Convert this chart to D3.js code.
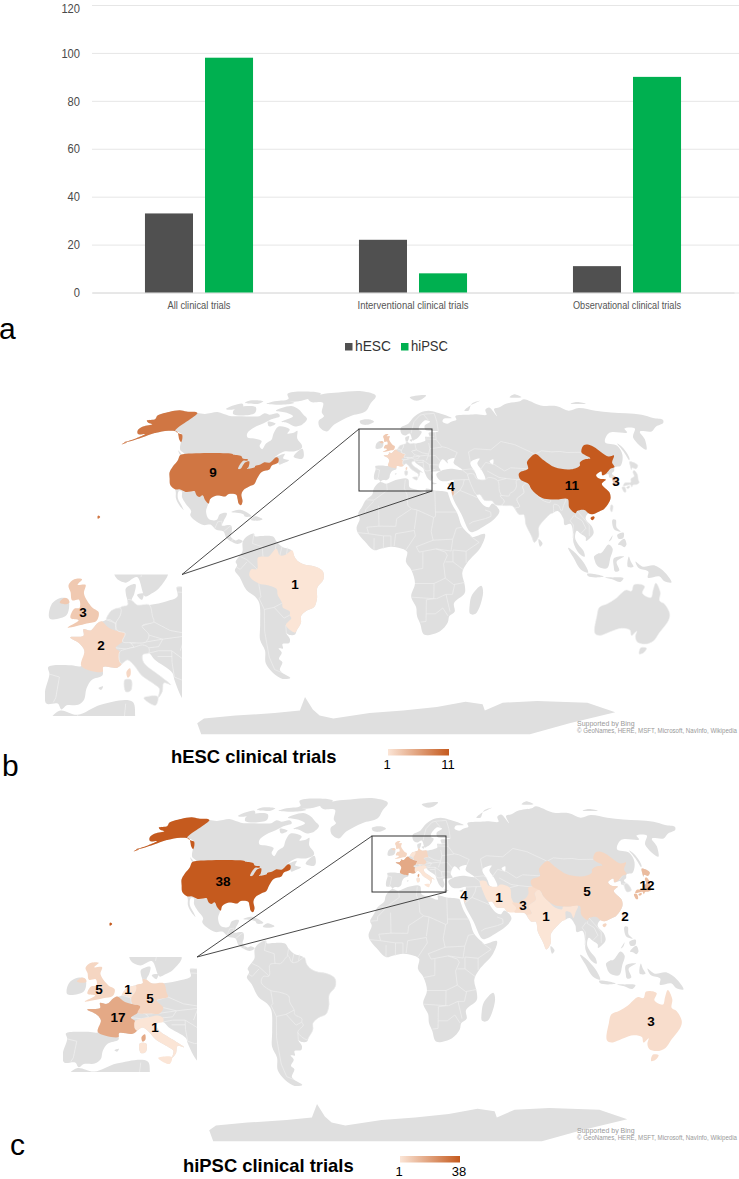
<!DOCTYPE html>
<html><head><meta charset="utf-8">
<script src="https://cdn.jsdelivr.net/npm/d3@7"></script>
<style>html,body{margin:0;padding:0;background:#fff}svg{display:block}</style>
</head><body><svg id="c" width="739" height="1179"></svg>
<script>
// ---------- bar chart data ----------
const categories = ["All clinical trials","Interventional clinical trials","Observational clinical trials"];
const seriesNames = ["hESC","hiPSC"];
const hescValues = [33,22,11];
const hipscValues = [98,8,90];
const yTicks = [0,20,40,60,80,100,120];

// ---------- map values ----------
const hescTrials = {USA:9, Brazil:1, France:2, UK:3, China:11, Korea:3, Israel:4};
const hipscTrials = {USA:38, France:17, UK:5, Germany:5, Netherlands:1, Italy:1, Iran:1, Pakistan:3, India:1, China:5, Japan:12, Taiwan:2, Australia:3, Israel:4};

// ---------- geography, [lon,lat] ----------
const landRings = [
 [[-168,65.6],[-164,66.5],[-166,68.3],[-162,70.3],[-156.5,71.3],[-150,70.5],[-141,69.7],[-135,69.2],[-128,70.2],[-124,69.6],[-115,68],[-108,68],[-101,67.8],[-96,68],[-94,69.5],[-90,68.8],[-85,69.5],[-82,68],[-86,66.3],[-89,64.2],[-93,62],[-94.5,59],[-92.5,57],[-88,56.5],[-82.5,55.2],[-82,52.8],[-79.5,51.3],[-79,54],[-77,56],[-78,58.7],[-78,62.4],[-73.5,62.3],[-69.5,61],[-69.5,59],[-65.5,59.5],[-64,60.3],[-61.5,56.5],[-57,53.5],[-56,52],[-60,50.2],[-66,50.2],[-70,47.5],[-65,49],[-65,47],[-61,46],[-64,44.5],[-66,44],[-67,45],[-70,43.5],[-70.5,41.7],[-74,40.6],[-75.5,37.5],[-76,35],[-78,34],[-81,32],[-81.3,30],[-80,27],[-80.4,25.2],[-81.8,26],[-82.8,28],[-84,30],[-88,30.3],[-89.5,29.2],[-91,29.3],[-94,29.6],[-97,28],[-97.5,25],[-97.8,22.3],[-96,19],[-94,18.2],[-91.5,18.6],[-90.5,21],[-87,21.5],[-88,18],[-88.6,15.8],[-84,15.8],[-83.3,13],[-83.7,10.8],[-81,8.9],[-79.5,9.5],[-77.5,8.6],[-78.2,7.8],[-80,7.3],[-83,8.3],[-85.7,10],[-87.5,13],[-91.5,14],[-94.5,16.2],[-98,16],[-103,18.3],[-105.5,20.5],[-105.5,22.5],[-109.2,26],[-112,29],[-113,31.5],[-114.7,31.7],[-114,28.5],[-110.5,24.5],[-109.5,23],[-112,25],[-115,28.5],[-116,31],[-117.1,32.5],[-120.5,34.5],[-122.5,37.5],[-124.3,40.4],[-124.5,43],[-124,46.2],[-124.7,48.4],[-122.8,49],[-127,51],[-130.3,54.5],[-134,58.3],[-139,59.8],[-145,60.3],[-149,60],[-151.5,59.3],[-153,59],[-157,57],[-161,55.3],[-164.5,54.6],[-160,56.5],[-157.5,58.7],[-162,58.7],[-165,60.5],[-165,62.5],[-161,63.7],[-165,64.5]],
 [[-73,78.2],[-68,76],[-58,75.5],[-54,70],[-51,68],[-53,65.5],[-50,62],[-44,60],[-41,63.5],[-32,68],[-22,70.5],[-20,75],[-18,80],[-30,83.5],[-50,82.5],[-62,81.5]],
 [[-80,73.7],[-72,71.5],[-67,69],[-62,66.5],[-64,63],[-68,62.7],[-74,64.5],[-78,65],[-73,68],[-80,70],[-88,71]],
 [[-117,73],[-105,73],[-101,69.5],[-115,69],[-118,71]],
 [[-90,76.5],[-78,76.5],[-65,81.5],[-72,83],[-92,81.5],[-88,78]],
 [[-125,72],[-118,75],[-115,73.5],[-120,71.5]],
 [[-100,75],[-85,74.5],[-80,75.5],[-92,77]],
 [[-117,75.5],[-106,75],[-105,76.5],[-116,77]],
 [[-87,65],[-81,64],[-84,62.6]],
 [[-59,47.7],[-55.5,51.5],[-53,48],[-53.5,46.7]],
 [[-128,50.8],[-123.5,48.4],[-125,48.7]],
 [[-84.8,22],[-80,23],[-74.2,20.2],[-77.5,19.9],[-78.5,21]],
 [[-74.3,18.5],[-72.5,20],[-68.4,18.7],[-71,18]],
 [[-77.3,8.5],[-75.5,10.7],[-72,12],[-71.5,10.8],[-68,11],[-62,10.7],[-60,8.4],[-57,6],[-52,4.5],[-50,1],[-48,-1],[-44,-2.5],[-40,-3],[-35.3,-5.2],[-35,-9],[-38.5,-13],[-39,-18],[-41,-22],[-45,-23.5],[-48.5,-26],[-49,-29],[-52,-32.5],[-53.5,-34.5],[-56.5,-34.8],[-58.3,-34],[-57,-36.5],[-58,-38.5],[-62,-39],[-62.5,-41],[-65,-41],[-64,-43],[-67,-46],[-65.7,-47.5],[-69,-51],[-68.5,-52.5],[-65,-55],[-70,-55.5],[-74,-52.5],[-75.5,-48],[-73,-42],[-73.7,-37],[-71.5,-30],[-70.2,-20],[-72,-17],[-76,-14],[-79,-8],[-81.2,-5],[-80,-2.5],[-80.7,-1],[-78.5,2],[-77.3,4],[-77.5,7]],
 [[-6,35.8],[-2,35.1],[3,36.8],[10,37.3],[11,33.5],[15,32.3],[20,31],[20,32.8],[25,32],[32,31.2],[32.5,29.9],[34,26],[37,21],[39,15.5],[43.2,11.5],[44.5,10.5],[51.2,11.9],[49,6],[41.5,-1.5],[39,-6],[40.5,-12],[40.5,-15.5],[35,-20],[35.5,-24],[32.7,-26],[32,-29],[28,-33],[20,-34.8],[18.3,-33.8],[17,-30],[15,-26],[14.5,-22],[11.8,-17],[13.8,-11],[12,-5],[9,-1],[9.7,3.5],[8.5,4.5],[5,5.5],[1,6],[-4,5.2],[-8,4.4],[-13,8.5],[-16.8,12.5],[-17.5,14.7],[-16,19],[-17,21],[-15,24.5],[-13,27.7],[-9.8,30],[-9,33]],
 [[-5.6,36],[-6.5,37],[-9,37],[-9.5,38.8],[-8.8,42],[-9.2,43.2],[-4,43.5],[-1.7,43.4],[-1.2,46],[-2.5,47.3],[-4.7,48.3],[-1.6,48.6],[-1.7,49.7],[0,49.5],[1.6,50.8],[3.6,51.4],[4.8,53],[7,53.6],[8.7,54],[8.2,56],[8.2,57],[10.6,57.7],[10.3,56],[9.7,54.8],[11,54],[14,54],[18.5,54.7],[21,55.5],[21,57.2],[24,57.2],[23.5,59.2],[28,59.6],[30,60],[25,60.2],[21.5,60.8],[21.3,63],[25.3,65],[22,65.8],[17.5,62.5],[17.2,60.7],[19,59.8],[16.5,57],[14.5,56],[13,55.5],[11,59],[8,58],[5.5,59],[5,62],[10,64],[14,67.5],[19,70],[25,71],[31,70],[41,67],[35,66.5],[34,65],[37,64],[40,65],[44,66],[44,68],[54,68.7],[60,69],[67,68.7],[68,71.5],[72,72.8],[74,68],[75,72],[80,73],[87,75],[100,76.5],[105,77.7],[113,74],[125,73.5],[130,71],[140,72.5],[150,71],[160,70],[170,69.5],[180,68.7],[-175,67],[-170,66],[-173,64.3],[179,62.5],[172,60],[164,59.9],[162,56],[157,51],[155.7,57],[163,61.5],[156,61.5],[155,59.5],[143,59.3],[135,54.7],[141,53],[140,48.5],[135,43.5],[131,42.8],[129.5,41],[127.5,39.8],[129.4,37],[129.3,35.3],[126.5,34.5],[126.5,37.5],[125,38],[125.3,39.5],[121.5,39],[122,40.7],[118,39],[119,37.5],[122.5,37],[119.3,35],[122,31],[121.5,28],[117,23.5],[114,22.3],[110,21],[108,21.5],[106,19],[109,15],[109.3,12],[105,8.7],[105,10.2],[102.5,12],[100.5,13.4],[99.3,10],[101,6.8],[103.5,4],[104,1.4],[101,3],[98.3,8],[98.5,12],[97.5,16.5],[94.3,16],[94,19],[91.5,22.5],[89,21.8],[87,21],[85,19.5],[80.3,15],[80,11],[77.5,8],[76,11],[73.5,16],[72.8,20.8],[70.5,20.8],[69,22.3],[67,24.8],[62,25.2],[57.5,25.5],[56.5,27],[52,27.5],[50,30],[48,30],[50,26.5],[51.5,25],[54,24.2],[56.3,26],[59.8,22.5],[57,19],[52,16],[45,12.8],[43.2,13],[39,21],[35,28],[34.3,31.2],[35.8,35.5],[36,36.8],[32,36.2],[28,36.7],[26.3,39.5],[29,41],[35,42],[41.5,41.5],[37,44.7],[38,47],[33.5,46],[33.7,44.5],[30.7,46.5],[28,43],[29,41.2],[26,40.8],[23.5,40.5],[24,38],[23,36.5],[21.3,37.5],[19.4,41],[19,42.2],[15,44.5],[13.7,45.6],[12.3,45.3],[12.5,44],[16,41.8],[18.5,40.2],[17,40.5],[16.6,39],[15.7,38],[16,39.5],[15,40.2],[12,41.8],[10.3,43.5],[8.8,44.4],[6.5,43.1],[3.3,43.2],[3.2,41.8],[0.8,41],[-0.3,39.5],[-0.7,37.7],[-2,36.8],[-4.5,36.7]],
 [[-10,54],[-8,55.2],[-6,55],[-6,52.2],[-10,51.6]],
 [[-24,65.5],[-18,66.3],[-14,65],[-18.5,63.4],[-22.7,63.9]],
 [[11,79],[25,80.3],[20,77.5],[15,77]],
 [[52,71],[57,73.5],[68,76.8],[60,75],[55,71]],
 [[95,79],[105,79],[100,81]],
 [[138,75],[150,75],[145,76]],
 [[142,54],[143.5,52],[143,47],[142,46],[142,50]],
 [[140,41.6],[140.5,43.3],[141.8,45.4],[145.2,43.7],[143,42],[141,42.5]],
 [[109,1.5],[111,2.8],[113,3.2],[117,7],[119,5],[117.7,1],[116,-4],[111,-3],[109.2,0]],
 [[95.3,5.5],[98,4],[104,-2],[106,-6],[102,-4.5],[98,1]],
 [[105.5,-6.5],[110,-6.7],[114.5,-7.8],[110,-8.2],[106,-7.5]],
 [[115,-8.2],[119,-8.2],[125,-8.5],[123.5,-10.3],[119,-9]],
 [[119.5,0.7],[125,1.5],[121,-0.9],[122.5,-5],[120.3,-5.5],[119.5,-3]],
 [[127.5,1.5],[128.5,-0.8],[130,-3.2],[127,-3.3]],
 [[131,-0.8],[135,-3.2],[141,-2.6],[147,-6],[150.8,-10.5],[147,-10],[144,-7.7],[138,-8.3],[138,-5.5],[133,-4]],
 [[120.5,18.5],[122.2,18.4],[122,15],[124,13],[120.8,13.8],[120,16]],
 [[122,7],[125.5,9.7],[126.5,7],[125.3,5.8],[124,6.5]],
 [[122,11.5],[125.5,12.5],[125,10],[122.5,9.7]],
 [[117.2,8.4],[119.5,11.3],[118.5,9.2]],
 [[79.8,9.5],[81.8,7.5],[80.5,6],[79.8,7.5]],
 [[49.3,-12],[50.4,-15.5],[47,-25],[44,-25],[43.5,-21],[44.5,-16.3]],
 [[8.2,41],[9.7,41],[9.6,39.2],[8.5,39]],
 [[23.5,35.6],[26.3,35.2],[24,34.9]],
 [[32.3,35],[34.5,35.6],[33.5,34.6]],
 [[11,55.8],[12.6,56],[12.2,54.9]],
 [[2.4,39.6],[3.4,39.9],[3,39.3]]
];
const polarRing = [[-164,-79.7],[-151,-76.8],[-123,-74.9],[-92,-73.5],[-72,-72],[-62,-64.7],[-62,-71.5],[-60,-74.9],[-51,-76.8],[-20,-73.5],[6,-72],[31,-70],[51,-67.2],[64,-68.5],[68,-72],[78,-67.7],[102,-66.8],[139,-67.7],[169,-73],[147,-79.7],[114,-89.9],[40,-89.9],[-50,-89.9],[-162,-89.9]];
const waterRings = [
 [[47,45],[53,46.8],[51,44.5],[53,41],[54,37],[50,37.3],[49,40]],
 [[58.5,45.5],[61,46.5],[60,44]]
];
const countryRings = {
 USA:[
  [[-122.8,49],[-95,49],[-94.6,48.7],[-89.5,48],[-88,46.9],[-84.8,46.5],[-84.7,45.8],[-87,45.8],[-87.8,42],[-86.5,42],[-85.5,45],[-83.5,45.5],[-82.5,43],[-83,42],[-79,42.7],[-79,43.3],[-76.5,44],[-75,45],[-71.5,45],[-69.2,47.4],[-67.8,47],[-67,45],[-70,43.5],[-70.5,41.7],[-74,40.6],[-75.5,37.5],[-76,35],[-78,34],[-81,32],[-81.3,30],[-80,27],[-80.4,25.2],[-81.8,26],[-82.8,28],[-84,30],[-88,30.3],[-89.5,29.2],[-91,29.3],[-94,29.6],[-97,28],[-97.2,25.9],[-99.5,27.5],[-101.5,29.8],[-103,29],[-104.5,29.6],[-106.5,31.7],[-108.2,31.5],[-111,31.3],[-114.7,32.5],[-117.1,32.5],[-120.5,34.5],[-122.5,37.5],[-124.3,40.4],[-124.5,43],[-124,46.2],[-124.7,48.4]],
  [[-168,65.6],[-164,66.5],[-166,68.3],[-162,70.3],[-156.5,71.3],[-150,70.5],[-141,69.7],[-141,60.3],[-137,59],[-134,58.3],[-130.3,54.7],[-133,56],[-136,58],[-139,59.8],[-145,60.3],[-149,60],[-151.5,59.3],[-153,59],[-157,57],[-161,55.3],[-164.5,54.6],[-160,56.5],[-157.5,58.7],[-162,58.7],[-165,60.5],[-165,62.5],[-161,63.7],[-165,64.5]],
  [[-163.5,54.8],[-164.5,53.6],[-162.5,54.5]],
  [[-152.5,20.4],[-151.3,19.7],[-152.2,18.9],[-152.7,19.7]]
 ],
 Brazil:[[[-51.5,4.3],[-50,1],[-48,-1],[-44,-2.5],[-40,-3],[-35.3,-5.2],[-35,-9],[-38.5,-13],[-39,-18],[-41,-22],[-45,-23.5],[-48.5,-26],[-49,-29],[-52,-32.5],[-53.4,-33.7],[-57.6,-30.2],[-54,-27],[-54.6,-25.6],[-54.3,-24],[-58,-22],[-58,-20],[-60,-16.3],[-60.3,-13.5],[-65,-11.8],[-69.5,-11],[-74,-7.5],[-73,-4.5],[-70,-4.3],[-69.5,1],[-67,1.5],[-64,1.5],[-60,5],[-58,2],[-55,2.3]]],
 UK:[
  [[-5,58.6],[-3,58.6],[-4,57.6],[-2,57.6],[-2.2,56],[0,53.6],[1.7,52.7],[1.3,51.2],[-1,50.7],[-5.5,50],[-3,51.3],[-5,51.7],[-4.3,53.3],[-3,53.5],[-3.3,54.9],[-5,54.8],[-5.6,56.3],[-6.3,57.5]],
  [[-8,54.4],[-7,55.2],[-6,55],[-5.6,54.4],[-6.4,54.1]]
 ],
 France:[
  [[1.6,50.8],[2.5,51.1],[4.2,50],[5.8,49.5],[8.2,49],[7.6,47.6],[6,46.5],[7,45.8],[7,44.2],[7.5,43.8],[6.5,43.1],[3.3,43.2],[3.2,42.4],[-1.7,43.4],[-1.2,46],[-2.5,47.3],[-4.7,48.3],[-1.6,48.6],[-1.7,49.7],[0,49.5]],
  [[8.6,42.4],[9.4,43],[9.5,41.8],[8.9,41.4]]
 ],
 Germany:[[[7,53.6],[8.7,54],[8.7,54.9],[9.7,54.8],[11,54],[14,54],[14.7,52],[15,51],[12.2,50.3],[13.8,48.7],[13,47.5],[10,47.4],[7.6,47.6],[8.2,49],[6.3,49.5],[6,51],[7,52.3]]],
 Netherlands:[[[3.6,51.4],[4.8,53],[7,53.4],[7,52.3],[6,51],[5.8,50.8],[4.5,51.4]]],
 Italy:[
  [[7,45.8],[8.5,46.3],[10.3,46.6],[12.3,47],[13.7,46.5],[13.7,45.6],[12.3,45.3],[12.5,44],[16,41.8],[18.5,40.2],[17,40.5],[16.6,39],[15.7,38],[16,39.5],[15,40.2],[12,41.8],[10.3,43.5],[8.8,44.4],[7.5,43.8],[7,44.2]],
  [[12.5,38],[15.6,38.2],[15.1,36.7],[12.8,37.6]],
  [[8.2,41],[9.7,41],[9.6,39.2],[8.5,39]]
 ],
 Iran:[[[44.5,39.5],[48,39.5],[49,37.5],[54,37],[56,38],[61,36.5],[61,31.5],[63,27],[61.6,25.2],[57.5,25.5],[56.5,27],[52,27.5],[50,30],[48,30],[46,33.5],[44.8,37]]],
 Pakistan:[[[61.6,25.2],[67,24.8],[68.5,23.8],[71,24.5],[70,28],[74.5,31],[74.5,34],[77.5,35.5],[74,37],[71.5,36.5],[71,34],[69.3,31.9],[66.5,30.5],[66,29.5],[61,29.5],[63,27]]],
 India:[[[74.5,34],[77.5,35.5],[79,32.5],[81,30.3],[84,27.5],[88,26.5],[88.8,27.8],[92,27.8],[97,28.2],[95,25],[93.5,22.5],[92.3,25],[89.8,25.5],[89,21.8],[87,21],[85,19.5],[80.3,15],[80,11],[77.5,8],[76,11],[73.5,16],[72.8,20.8],[70.5,20.8],[69,22.3],[68.5,23.8],[71,24.5],[70,28],[74.5,31]]],
 China:[
  [[73.7,39.5],[75,40.5],[80,42],[80.5,45],[83,47],[87.5,49],[91,46],[96,42.7],[105,41.8],[111,43.5],[111.9,45],[116,46.5],[119.5,47],[116,49.8],[120.5,53.3],[125,53],[131,47.8],[134.7,48.3],[131,45],[131,42.9],[128,42],[124.5,40],[121.5,39],[122,40.7],[118,39],[119,37.5],[122.5,37],[119.3,35],[122,31],[121.5,28],[117,23.5],[114,22.3],[110,21],[108,21.5],[106,23],[102,22.5],[101,21.5],[98,24],[98,28],[92,27.8],[88.8,27.8],[84,28.5],[81,30.3],[79,32.5],[78,35],[74,37]],
  [[108.7,19.3],[110.5,20.1],[111,19.5],[109.5,18.2]]
 ],
 Japan:[
  [[130.9,34],[132.5,35.5],[136,35.8],[137,37.4],[139.5,38.5],[140,40.5],[141.3,41.3],[142,39.5],[141,37],[140.8,35.7],[138.8,34.7],[136.7,34.5],[135.5,33.5],[135.2,34.6],[132.5,34.2]],
  [[130,33.5],[131.7,33.5],[131.3,31.3],[130.3,31.2]],
  [[132.3,33.3],[134.5,34.2],[134.2,33.3],[133,32.8]],
  [[140,41.6],[140.5,43.3],[141.8,45.4],[145.2,43.7],[143,42],[141,42.5]]
 ],
 Taiwan:[[[121,25.3],[122,25],[120.8,22],[120.1,23]]],
 Korea:[[[126.5,37.7],[128.3,38.5],[129.4,37],[129.3,35.3],[126.5,34.5]]],
 Israel:[[[34.3,31.3],[35,33],[35.6,33],[35.5,31],[35,29.5]]],
 Australia:[
  [[114,-22],[113.5,-26],[115,-34],[118,-35],[124,-33],[129,-31.7],[134,-32.5],[136,-35],[138,-33],[138.5,-35.5],[141,-38],[146,-39],[150,-37.5],[151,-34],[153.5,-28],[153,-25],[149,-20.5],[146,-19],[145.5,-15],[142.5,-10.8],[141.5,-14],[141,-17.5],[136,-15.5],[136.7,-12.2],[131,-11.5],[130,-14.5],[127,-14],[122,-18],[118,-20.3]],
  [[144.7,-40.7],[148.3,-40.9],[148,-43.2],[146,-43.6]]
 ]
};
const borderLines = [
 [[-72,12],[-72.5,7.5],[-67.5,6],[-67,1.5]],[[-78.5,1.5],[-75,0],[-70,-4.3]],[[-80.3,-3.4],[-78.5,-4.5],[-75,-1]],[[-60,8.4],[-60.5,5]],[[-57,6],[-58,2]],[[-54,5.8],[-54.5,2.5]],[[-69.5,-11],[-69,-17],[-70,-18]],[[-70,-18],[-68,-23],[-70,-33],[-72,-45],[-72,-51],[-68.5,-52.5]],[[-62.6,-22],[-58,-20]],[[-62.6,-22],[-58,-27],[-54.6,-25.6]],[[-68,-23],[-62.6,-22]],[[-58.3,-34],[-57.6,-30.2]],
 [[-117.1,32.5],[-111,31.3],[-106.5,31.7],[-101.5,29.8],[-97.2,25.9]],[[-92,14.5],[-91,17.5],[-89,17.8],[-88.6,15.8]],[[-87.5,13],[-84,15.8]],[[-85.7,11],[-83.7,10.8]],[[-83,8.3],[-82.6,9.5]],
 [[-2,35.1],[-1.5,32],[-8.7,27.5],[-13,27.7]],[[-17,21],[-13,21.3],[-13,23],[-8.7,27]],[[-12,15],[-5.5,15.5],[-6,25]],[[8.5,37],[8,33],[9.5,30]],[[9.5,30],[10,25],[12,23.5],[15,23],[24,19.5],[25,20],[25,32]],[[25,22],[37,22]],[[24,19.5],[22.5,13],[23.5,9]],[[4,19],[3.5,15.4],[-5.5,15.5]],[[4,19],[12,23.5]],[[15,23],[13.5,14]],[[3.5,12],[13.5,13.5],[14,11],[9,4.5]],[[2.7,6.3],[3.5,12]],[[-3,5],[-3,11],[1,11],[1,6]],[[-8,4.5],[-8,10]],[[-12,15],[-11,12],[-3,11]],[[-16.8,12.5],[-11,12]],[[23.5,9],[34,9.5],[33,4],[25,5]],[[14.5,6],[23.5,9]],[[14.5,6],[16,3.5],[25,5]],[[12,-5],[18,-4],[18,3.5]],[[30,-8.5],[29,-2],[31,2],[30,3.5],[25,5]],[[13.8,-11],[24,-11],[24,-18]],[[12,-17.3],[24,-18],[25.5,-18]],[[20,-22],[20,-28.5],[17,-28.8]],[[24,-18],[20,-18.5],[20,-22]],[[20,-25],[25,-25],[29,-22.3],[32,-26]],[[30,-1],[34,-1],[39.5,-4.6]],[[30,-8.5],[34.5,-11.5],[40.5,-10.5]],[[35,-11.5],[34,-16],[30.5,-16],[33,-24]],[[34,9.5],[36,14.5],[39,15]],[[34,4.5],[41,3.9],[48,8],[43.3,11]],[[34,-1],[34,4.5]],[[41,3.9],[41,-1.5]],[[24,-11],[30,-8.5]],[[30.5,-16],[25.5,-18]],
 [[35,29.5],[39,32],[47.5,29],[48,28.5]],[[52,23],[55,22],[55,20],[52,19],[45,17.5],[43,16.5]],[[42,37],[41,34.5],[39,32]],[[36,36.8],[42,37],[44.8,37]],[[41.5,41.5],[44.5,39.5],[44.8,37]],[[52,41.5],[56,45],[61,44],[66,41],[70,42.5],[80,42]],[[47,50],[51,51.5],[61,51],[69,55],[77,53.5],[87,49]],[[47,50],[47,45]],[[56,41],[62,38],[66,37.5]],[[61,36.5],[66,37.5],[71.5,37],[74,37]],[[87.5,49],[92,50.5],[98,50],[103,50.2],[107,49.7],[116,49.8]],[[98,10],[99,16],[97.5,18],[100,20.5]],[[101,21],[100.5,20],[104,18],[105.5,14.5],[102.5,12]],[[102,22.5],[105,19],[107.5,16],[107,11]],[[124.5,40],[128,42]],[[125,38],[128.3,38.5]],[[94,25],[97,28.2]],[[41.5,41.5],[47,42],[49,41]],
 [[28,59.6],[28,56],[31,52.5],[34,52],[40,49.7],[38,47]],[[30,60],[30,65],[29,69.5]],[[24,66],[21,69]],[[12,59],[12.5,61],[14,65],[18.5,68.5],[21,69],[29,69.5]],[[23.5,51.5],[31,52.3]],[[23,54.3],[23.5,51.5],[22.5,49]],[[15,51],[18.8,49.5],[22.5,49]],[[21,56.3],[28,56]],[[21,57.2],[27,57.6]],[[22.5,49],[22,48],[26.5,48.3],[29.5,45.4]],[[22,48],[21,46]],[[17,48],[22,48.5]],[[15,51],[12.2,50.3]],[[13.8,48.7],[17,48]],[[9.5,47.3],[13,47.5],[17,48],[16,46.7],[13.7,46.5]],[[6,46.5],[8.5,46.3],[10.3,46.6],[9.5,47.4],[7.6,47.6]],[[13.7,45.6],[16,46],[19,46],[22.5,44],[28.5,43.8]],[[19,46],[19,44],[19.4,41.5],[21,41],[23,41.3],[26,41.8]],[[22.5,44],[23,41.3]],[[15.7,45],[19,45]],[[-8.8,42],[-6.5,41.5],[-7,38],[-7.5,37.2]],[[3.6,51.4],[5.8,50.8],[6,49.5]],[[8.7,54.9],[9.7,54.8]]
];

// ---------- Robinson table ----------
const robinsonLength = [1,.9986,.9954,.99,.9822,.973,.96,.9427,.9216,.8962,.8679,.835,.7986,.7597,.7186,.6732,.6213,.62,.62];
const robinsonDrop = [0,.062,.124,.186,.248,.31,.372,.434,.4958,.5571,.6176,.6769,.7346,.7903,.8435,.8936,.9394,.9761,1];

// ---------- layout ----------
const svg = d3.select("#c");
const defs = svg.append("defs");
const LAND = "#dfdfdf", EDGE = "#f1f1f1";
const sans = "'Liberation Sans',Arial,sans-serif";
const squeeze = (sel,w) => sel.attr("textLength",w).attr("lengthAdjust","spacingAndGlyphs");

// ---------- bar chart ----------
const y = d3.scaleLinear().domain([0,120]).range([292.5,5]);
const x0 = d3.scaleBand().domain(categories).range([92,734]).paddingInner(.495).paddingOuter(.2475);
const x1 = d3.scaleBand().domain(seriesNames).range([0,x0.bandwidth()]).paddingInner(.2);
const barColor = d3.scaleOrdinal().domain(seriesNames).range(["#505050","#00b050"]);

const yAxis = d3.axisLeft(y).tickValues(yTicks).tickSize(-647).tickPadding(12);
const gy = svg.append("g").attr("transform","translate(92,0)").call(yAxis);
gy.select(".domain").remove();
gy.selectAll("line").attr("stroke","#e6e6e6");
gy.selectAll("text").attr("fill","#4a4a4a").style("font",`13px ${sans}`)
  .each(function(d){ squeeze(d3.select(this),String(d).length*6.2); if(d===120) d3.select(this).attr("dy","0.55em"); });

const xAxis = d3.axisBottom(x0).tickSize(0).tickPadding(9);
const gx = svg.append("g").attr("transform","translate(0,292.5)").call(xAxis);
gx.select(".domain").attr("stroke","#dcdcdc");
const labelWidth = [63,111,108];
gx.selectAll("text").attr("fill","#555").style("font",`11px ${sans}`)
  .each(function(d,i){ squeeze(d3.select(this),labelWidth[i]); });

const rows = categories.map((c,i)=>({c,hESC:hescValues[i],hiPSC:hipscValues[i]}));
const groups = svg.append("g").selectAll("g").data(rows).join("g").attr("transform",d=>`translate(${x0(d.c)},0)`);
groups.selectAll("rect").data(d=>seriesNames.map(s=>({s,v:d[s]}))).join("rect")
  .attr("x",d=>x1(d.s)).attr("width",x1.bandwidth())
  .attr("y",d=>y(d.v)).attr("height",d=>y(0)-y(d.v)).attr("fill",d=>barColor(d.s));

const legendX = {hESC:345, hiPSC:401}, legendW = {hESC:36, hiPSC:37};
const lg = svg.append("g").selectAll("g").data(seriesNames).join("g").attr("transform",d=>`translate(${legendX[d]},343)`);
lg.append("rect").attr("width",7.5).attr("height",7.5).attr("fill",d=>barColor(d));
lg.append("text").attr("x",10).attr("y",8).text(d=>d).attr("fill","#333").style("font",`15px ${sans}`)
  .each(function(d){ squeeze(d3.select(this),legendW[d]); });

// ---------- map machinery ----------
function rawRobinson(lambda,phi){
  const deg = Math.min(89.999,Math.abs(phi)*180/Math.PI), i=Math.floor(deg/5), t=deg/5-i;
  const len = robinsonLength[i]+(robinsonLength[i+1]-robinsonLength[i])*t;
  const drop = robinsonDrop[i]+(robinsonDrop[i+1]-robinsonDrop[i])*t;
  const knee = -78*Math.PI/180;
  const l = lambda<knee ? knee+(lambda-knee)*1.06 : lambda;
  return [0.8487*len*l, 1.3523*1.0163*drop*(phi<0?-1:1)];
}
function planarPath(proj){
  const tr = d3.geoTransform({point(x,y){const p=proj([x,y]); this.stream.point(p[0],p[1]);}});
  return d3.geoPath(tr);
}
function makeProj(tx,ty){ return d3.geoProjection(rawRobinson).scale(127.05).translate([tx,ty]).rotate([-11,0]); }
const coast = d3.line().curve(d3.curveCatmullRomClosed.alpha(.5));
const ringsPath = (rings,proj) => rings.map(r=>coast(r.map(p=>proj(p)))).join("");

function drawGeo(g,proj,values,color,sw){
  const path = planarPath(proj);
  g.append("path").attr("d",ringsPath(landRings,proj)).attr("fill",LAND);
  g.append("path").datum({type:"Polygon",coordinates:[polarRing.concat([polarRing[0]])]}).attr("d",path).attr("fill",LAND);
  g.append("path").attr("d",ringsPath(waterRings,proj)).attr("fill","#fff");
  g.append("path").datum({type:"MultiLineString",coordinates:borderLines}).attr("d",path)
    .attr("fill","none").attr("stroke",EDGE).attr("stroke-width",sw).attr("vector-effect","non-scaling-stroke");
  const names = Object.keys(countryRings);
  g.selectAll("path.country").data(names).join("path").attr("class","country")
    .attr("d",n=>ringsPath(countryRings[n],proj))
    .attr("fill",n=>values[n]!=null?color(values[n]):LAND)
    .attr("stroke",n=>values[n]!=null?"none":EDGE).attr("stroke-width",sw).attr("vector-effect","non-scaling-stroke");
}

function panel(cfg){
  const color = d3.scaleLinear().domain(cfg.domain).range(["#fbe5d6","#c55a1e"]);
  const main = svg.append("g");
  drawGeo(main,makeProj(cfg.tx,cfg.ty),cfg.values,color,.6);
  const [bx0,by0,bx1,by1] = cfg.box;
  const clipId = "clip"+cfg.id;
  const [ix0,iy0,ix1,iy1] = cfg.inset;
  defs.append("clipPath").attr("id",clipId).append("rect").attr("x",ix0).attr("y",iy0).attr("width",ix1-ix0).attr("height",iy1-iy0);
  const ig = svg.append("g").attr("clip-path",`url(#${clipId})`);
  ig.append("rect").attr("x",ix0).attr("y",iy0).attr("width",ix1-ix0).attr("height",iy1-iy0).attr("fill","#fff");
  const s = cfg.insetScale;
  const inner = ig.append("g").attr("transform",`translate(${s.x0-s.sx*s.bx},${s.y0-s.sy*s.by}) scale(${s.sx},${s.sy})`);
  drawGeo(inner,makeProj(409.7,559.7),cfg.values,color,.7);
  svg.append("rect").attr("x",bx0).attr("y",by0).attr("width",bx1-bx0).attr("height",by1-by0)
     .attr("fill","none").attr("stroke","#333").attr("stroke-width",1);
  svg.append("path").attr("d",d3.line()([[bx0,by0],[ix1,iy0],[bx1,by1]])).attr("fill","none").attr("stroke","#333").attr("stroke-width",.9);
  svg.append("g").selectAll("text").data(cfg.labels).join("text")
    .attr("x",d=>d[1]).attr("y",d=>d[2]).attr("text-anchor","middle").attr("dy","0.36em")
    .text(d=>cfg.values[d[0]]!=null?cfg.values[d[0]]:"").style("font",`bold 13.5px ${sans}`).attr("fill","#000");
  svg.append("text").attr("x",577).attr("y",cfg.attrY).text("Supported by Bing").attr("fill","#999").style("font",`7px ${sans}`);
  squeeze(svg.append("text").attr("x",577).attr("y",cfg.attrY+7).text("© GeoNames, HERE, MSFT, Microsoft, NavInfo, Wikipedia").attr("fill","#999").style("font",`7px ${sans}`),160);
  svg.append("text").attr("x",cfg.titleX).attr("y",cfg.titleY).text(cfg.title).style("font",`bold 18.4px ${sans}`).attr("fill","#000");
  const gid = "grad"+cfg.id;
  const gr = defs.append("linearGradient").attr("id",gid);
  gr.append("stop").attr("offset","0%").attr("stop-color",color(cfg.domain[0]));
  gr.append("stop").attr("offset","100%").attr("stop-color",color(cfg.domain[1]));
  const [lx0,lx1,ly] = cfg.legend;
  svg.append("rect").attr("x",lx0).attr("y",ly).attr("width",lx1-lx0).attr("height",6.5).attr("fill",`url(#${gid})`);
  svg.append("text").attr("x",lx0-1).attr("y",ly+20).attr("text-anchor","middle").text(cfg.domain[0]).style("font",`13px ${sans}`);
  svg.append("text").attr("x",lx1-1).attr("y",ly+20).attr("text-anchor","middle").text(cfg.domain[1]).style("font",`13px ${sans}`);
}

panel({id:"b",values:hescTrials,domain:[1,11],tx:409.7,ty:559.7,
  box:[359,429,432,491],inset:[45,574.5,182,716],
  insetScale:{sx:2.58,sy:2.74,x0:70,y0:637,bx:383.7,by:455.3},
  labels:[["USA",213,472],["Brazil",295,584],["UK",83,612],["France",101,645],["Israel",451,486],["China",572,485],["Korea",616,481]],
  attrY:726,title:"hESC clinical trials",titleX:171,titleY:763,legend:[388,449,749]});

panel({id:"c",values:hipscTrials,domain:[1,38],tx:421.7,ty:966.7,
  box:[372,836,446,892],inset:[63,957,197,1072],
  insetScale:{sx:2.49,sy:2.2,x0:87,y0:997,bx:383.7,by:449.8},
  labels:[["USA",223,881],["UK",99,989],["Netherlands",128,989],["Germany",150,998],["France",118,1017],["Italy",155,1027],["Israel",464,895],["Iran",499,897],["Pakistan",523,905],["India",546,916],["China",587,891],["Japan",647,885],["Taiwan",625,916],["Australia",651,1021]],
  attrY:1133,title:"hiPSC clinical trials",titleX:183,titleY:1172,legend:[400,460,1156]});

[["a",-1,339],["b",2,776],["c",10,1155]].forEach(d=>{
  svg.append("text").attr("x",d[1]).attr("y",d[2]).text(d[0]).style("font",`30px ${sans}`).attr("fill","#000");
});
</script></body></html>
